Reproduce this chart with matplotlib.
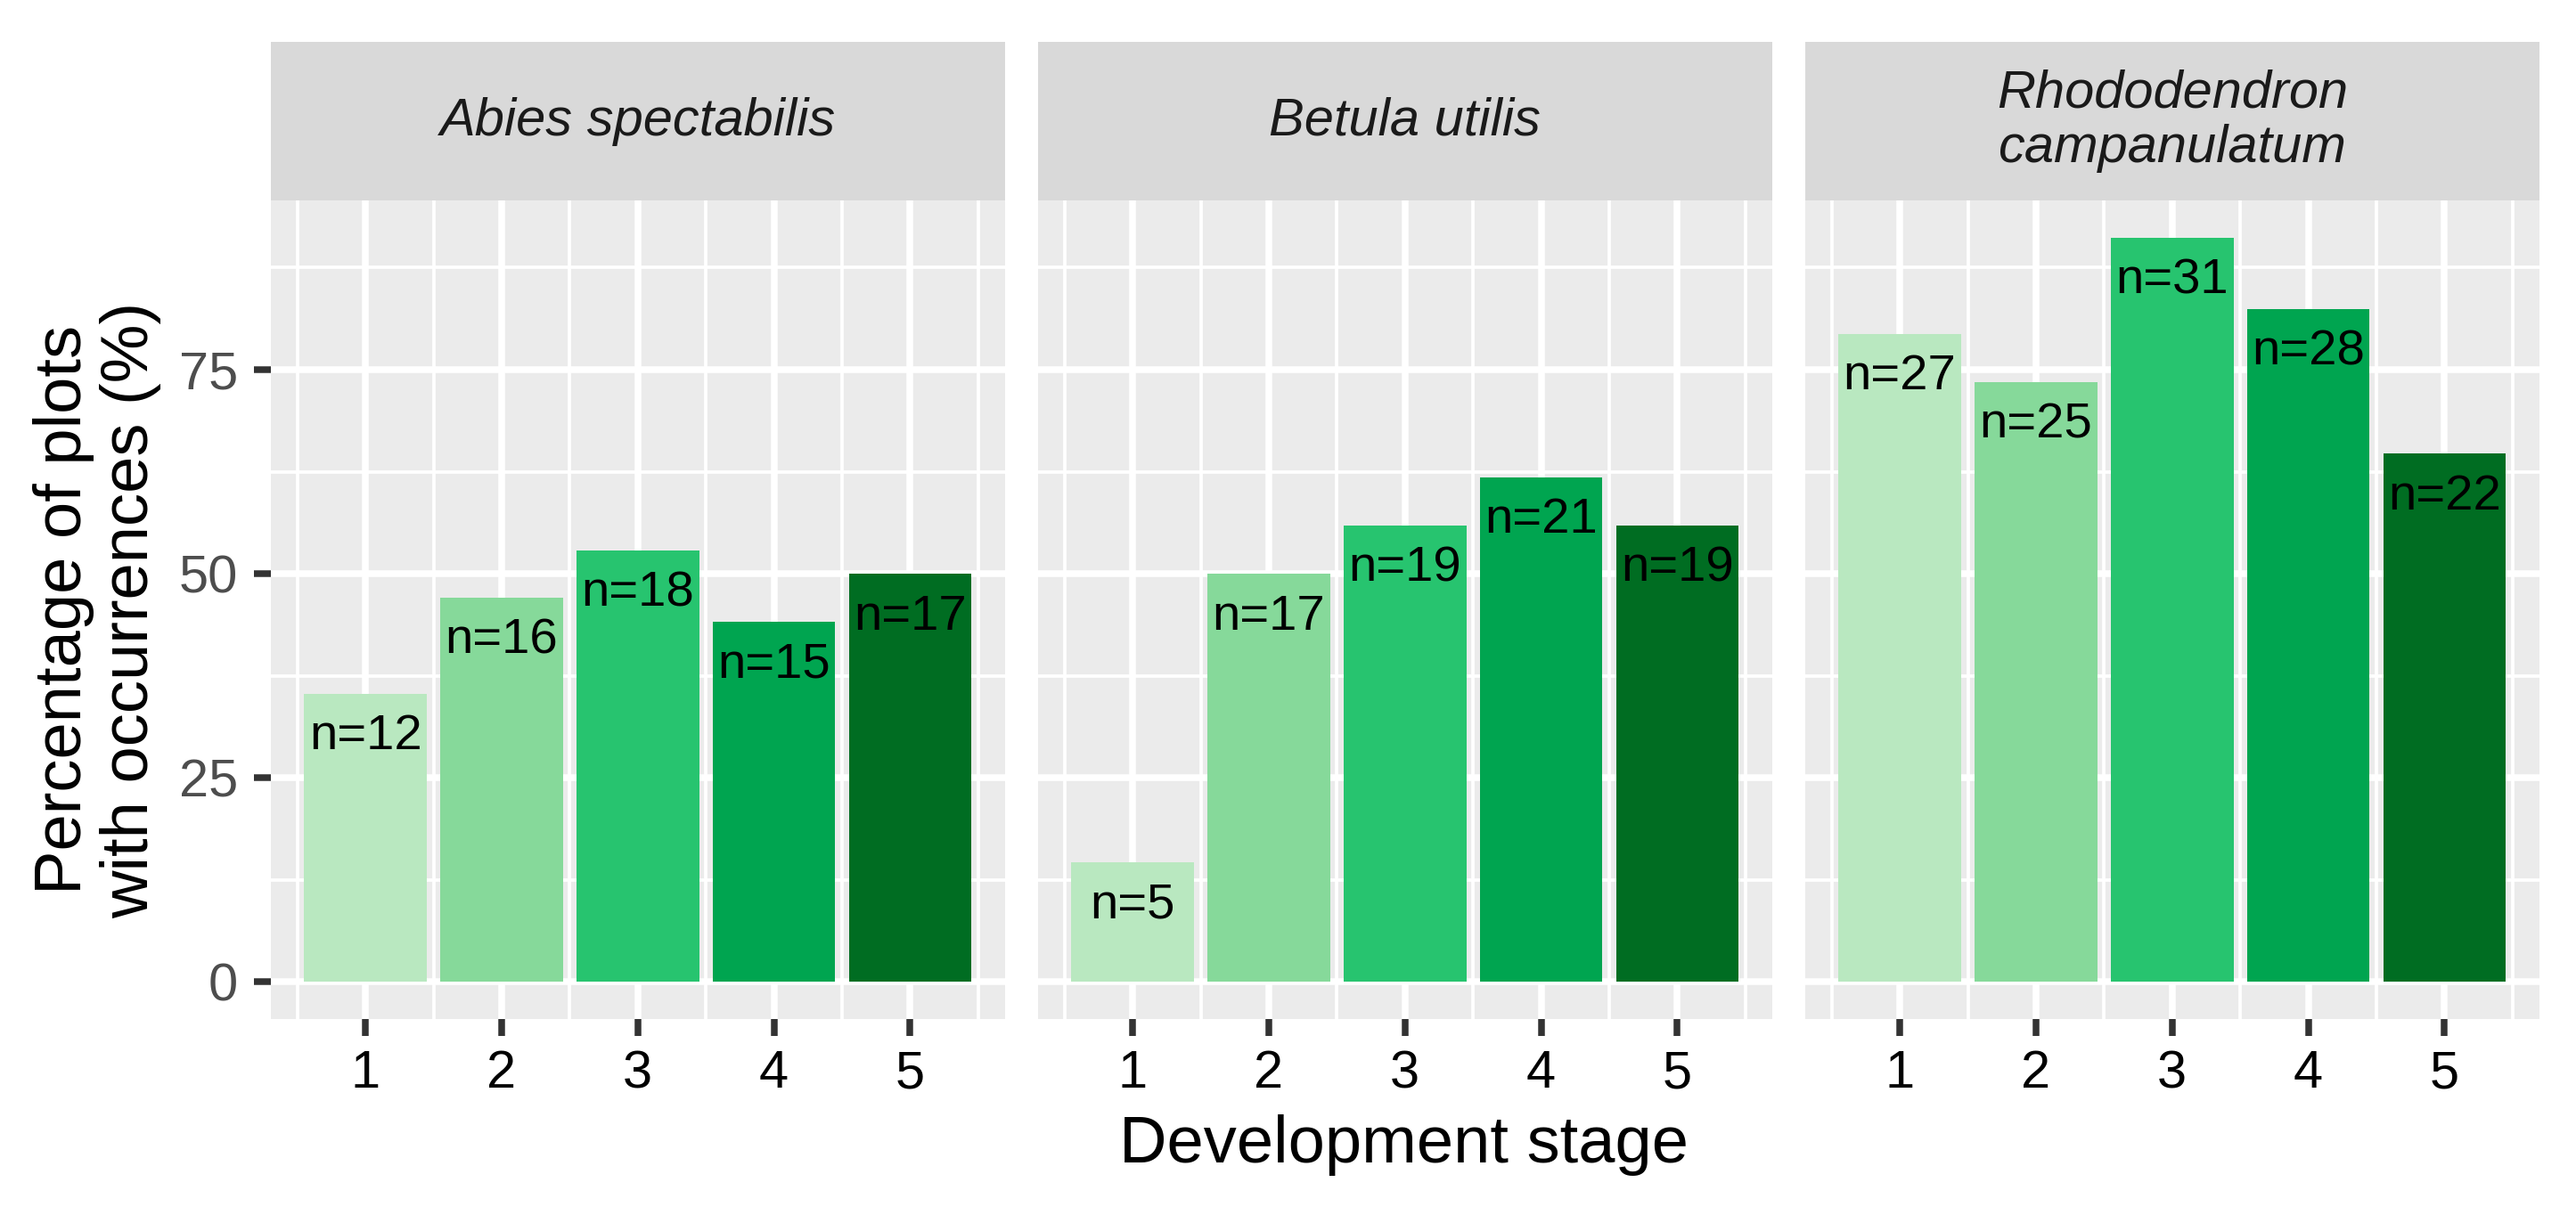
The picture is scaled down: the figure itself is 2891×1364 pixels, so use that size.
import matplotlib
matplotlib.use('Agg')
import matplotlib.pyplot as plt
from matplotlib.patches import Rectangle

plt.rcParams['font.family'] = ['Liberation Sans', 'DejaVu Sans']

species = ['Abies spectabilis', 'Betula utilis', 'Rhododendron\ncampanulatum']
stages = [1, 2, 3, 4, 5]
abies_pct = [35.3, 47.1, 52.9, 44.1, 50.0]
betula_pct = [14.7, 50.0, 55.9, 61.8, 55.9]
rhodo_pct = [79.4, 73.5, 91.2, 82.4, 64.7]
abies_n = [12, 16, 18, 15, 17]
betula_n = [5, 17, 19, 21, 19]
rhodo_n = [27, 25, 31, 28, 22]
colors = ['#B9E8C0', '#86D99A', '#27C46F', '#00A550', '#006D22']

pct = [abies_pct, betula_pct, rhodo_pct]
nn = [abies_n, betula_n, rhodo_n]

W, H = 2891, 1364
fig = plt.figure(figsize=(W/300, H/300), dpi=300)

lefts = [304, 1165, 2026]
pw, top, bot, strip_top = 823.5, 225, 1144, 47
for i, sp in enumerate(species):
    ax = fig.add_axes([lefts[i]/W, (H-bot)/H, pw/W, (bot-top)/H])
    ax.set_facecolor('#EBEBEB')
    ax.set_axisbelow(True)
    for s in ax.spines.values():
        s.set_visible(False)
    ax.bar(stages, pct[i], width=0.9, color=colors, zorder=2)
    for x, y, n in zip(stages, pct[i], nn[i]):
        ax.annotate('n=%d' % n, (x, y), xytext=(0, -15), textcoords='offset points',
                    ha='center', va='baseline', fontsize=13.5, color='black', zorder=3)
    ax.set_xlim(0.305, 5.695)
    ax.set_ylim(-4.56, 95.74)
    ax.set_xticks(stages)
    ax.set_xticks([0.5, 1.5, 2.5, 3.5, 4.5, 5.5], minor=True)
    ax.set_yticks([0, 25, 50, 75])
    ax.set_yticks([12.5, 37.5, 62.5, 87.5], minor=True)
    ax.grid(which='major', color='white', lw=1.8)
    ax.grid(which='minor', color='white', lw=0.9)
    ax.tick_params(which='minor', length=0)
    ax.tick_params(axis='x', which='major', length=4.6, width=1.8, color='#333333',
                   pad=3.6, labelsize=14.3, labelcolor='black')
    if i == 0:
        ax.tick_params(axis='y', which='major', length=4.6, width=1.8, color='#333333',
                       pad=4.2, labelsize=14.3, labelcolor='#4D4D4D')
    else:
        ax.tick_params(axis='y', which='both', length=0, labelleft=False)
    sh = (top - strip_top) / (bot - top)
    ax.add_patch(Rectangle((0, 1), 1, sh, transform=ax.transAxes, facecolor='#D9D9D9',
                           edgecolor='none', clip_on=False))
    ax.text(0.5, 1 + sh/2, sp, transform=ax.transAxes, ha='center', va='center',
            fontsize=14.3, style='italic', color='#1A1A1A', linespacing=1.15)

fig.text(109/W, (H-(top+bot)/2)/H, 'Percentage of plots\nwith occurrences (%)', rotation=90,
         ha='center', va='center', multialignment='center', fontsize=17.8, linespacing=1.12)
fig.text(1576/W, (H-1305)/H, 'Development stage', ha='center', va='baseline', fontsize=17.8)

fig.savefig('out.png', dpi=300, facecolor='white')
